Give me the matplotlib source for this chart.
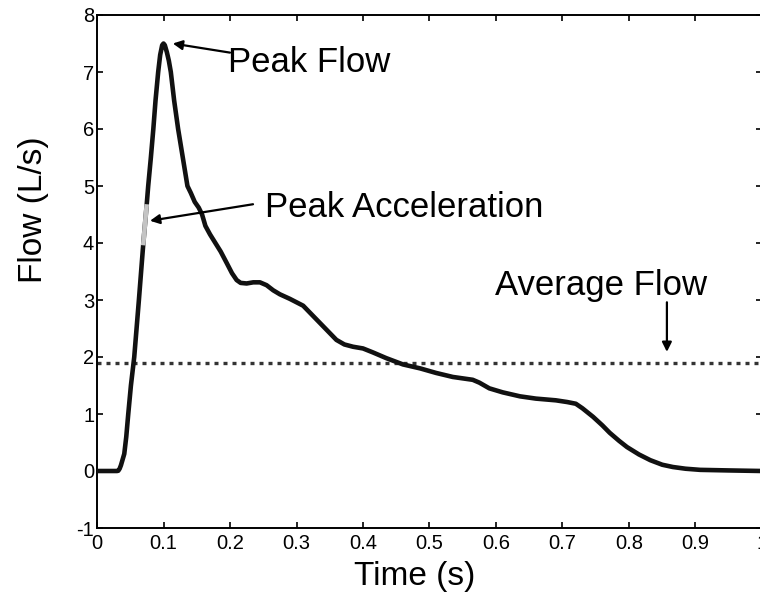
import matplotlib
matplotlib.use("Agg")
import matplotlib.pyplot as plt
import numpy as np

plt.rcParams['font.family'] = ['Liberation Sans', 'DejaVu Sans']
plt.rcParams['axes.unicode_minus'] = False

# flow waveform
time = [0, 0.03, 0.032, 0.034, 0.036, 0.038, 0.041, 0.044, 0.047, 0.051,
        0.056, 0.063, 0.0697, 0.0745, 0.077, 0.081, 0.0847, 0.088, 0.092, 0.095,
        0.098, 0.1, 0.102, 0.105, 0.108, 0.111, 0.116, 0.122, 0.129, 0.136,
        0.141, 0.147, 0.153, 0.158, 0.163, 0.17, 0.178, 0.186, 0.195, 0.203,
        0.21, 0.216, 0.225, 0.235, 0.245, 0.255, 0.265, 0.275, 0.29, 0.31,
        0.32, 0.335, 0.35, 0.36, 0.372, 0.385, 0.40, 0.415, 0.435, 0.46,
        0.486, 0.51, 0.535, 0.565, 0.575, 0.59, 0.61, 0.636, 0.66, 0.69,
        0.707, 0.72, 0.73, 0.746, 0.76, 0.771, 0.785, 0.797, 0.815, 0.832,
        0.85, 0.866, 0.885, 0.907, 0.95, 1.0]
flow = [0, 0, 0.005, 0.04, 0.1, 0.18, 0.3, 0.6, 1.0, 1.5,
        2.0, 3.0, 4.0, 4.64, 5.0, 5.5, 6.0, 6.5, 7.0, 7.3,
        7.47, 7.5, 7.47, 7.35, 7.2, 7.0, 6.5, 6.0, 5.5, 5.0,
        4.88, 4.72, 4.62, 4.5, 4.3, 4.15, 4.0, 3.85, 3.65, 3.47,
        3.35, 3.3, 3.29, 3.31, 3.31, 3.26, 3.17, 3.1, 3.02, 2.9,
        2.78, 2.6, 2.42, 2.3, 2.22, 2.18, 2.15, 2.08, 1.98, 1.87,
        1.8, 1.72, 1.65, 1.6, 1.55, 1.45, 1.38, 1.31, 1.27, 1.24,
        1.21, 1.18, 1.1, 0.95, 0.8, 0.67, 0.53, 0.42, 0.29, 0.19,
        0.11, 0.07, 0.04, 0.02, 0.01, 0]

accel_time = [0.0697, 0.0745]
accel_flow = [4.0, 4.64]

avg_flow = 1.9

xticks = np.round(np.arange(0, 1.01, 0.1), 1)
xticklabels = ["0", "0.1", "0.2", "0.3", "0.4", "0.5", "0.6", "0.7", "0.8", "0.9", "1"]
yticks = list(range(-1, 9))

fig = plt.figure(figsize=(7.6, 5.97), dpi=100)
ax = fig.add_axes([97/760, 69/597, 665/760, 513/597])

ax.plot(time, flow, color='#111111', lw=3.3, solid_joinstyle='round',
        solid_capstyle='round', zorder=3)
ax.plot(accel_time, accel_flow, color='#c4c4c4', lw=3.3, zorder=4)
ax.axhline(avg_flow, color='#333333', lw=2.4, linestyle=(0, (1.2, 1.5)), zorder=2)

ax.set_xlim(0, 1)
ax.set_ylim(-1, 8)
ax.set_xticks(xticks)
ax.set_xticklabels(xticklabels)
ax.set_yticks(yticks)
ax.tick_params(direction='in', length=4, width=1.2, labelsize=14.5,
               top=True, right=True)
ax.tick_params(axis='x', pad=4)
ax.tick_params(axis='y', pad=2)
for s in ax.spines.values():
    s.set_linewidth(1.4)

arrow = dict(arrowstyle='-|>', color='k', lw=1.6, mutation_scale=14,
             shrinkA=0, shrinkB=0)
fs = 25

ax.annotate('', xy=(0.114, 7.5), xytext=(0.2, 7.34), arrowprops=arrow)
ax.text(0.197, 7.005, 'Peak Flow', fontsize=fs, ha='left', va='baseline')

ax.annotate('', xy=(0.0797, 4.39), xytext=(0.2346, 4.68), arrowprops=arrow)
ax.text(0.2526, 4.456, 'Peak Acceleration', fontsize=fs, ha='left', va='baseline')

ax.annotate('', xy=(0.857, 2.09), xytext=(0.857, 2.96), arrowprops=arrow)
ax.text(0.598, 3.088, 'Average Flow', fontsize=fs, ha='left', va='baseline')

fig.text(414.5/760, 12/597, 'Time (s)', fontsize=24, ha='center', va='baseline')
fig.text(42/760, 1 - 210/597, 'Flow (L/s)', fontsize=24, ha='center',
         va='baseline', rotation=90, rotation_mode='anchor')

fig.savefig('out.png', dpi=100)
